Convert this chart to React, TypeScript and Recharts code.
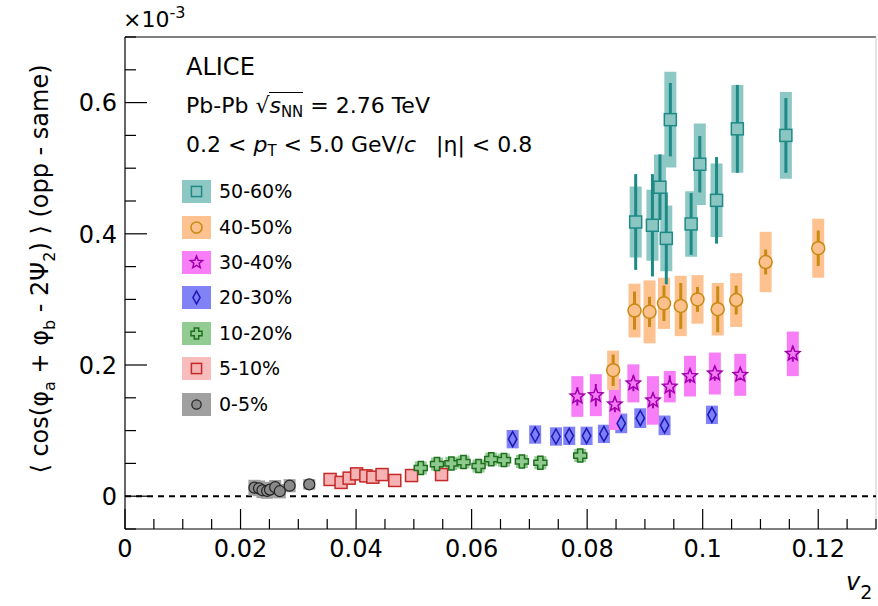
import React from "react";
import { ScatterChart, Scatter, XAxis, YAxis, ErrorBar, ReferenceLine, Legend } from "recharts";

const FONT = '"DejaVu Sans", "Liberation Sans", Arial, sans-serif';

// axis ticks (minor + major) and the majors that carry a label
const X_TICKS = [0, 0.005, 0.01, 0.015, 0.02, 0.025, 0.03, 0.035, 0.04, 0.045, 0.05, 0.055, 0.06, 0.065, 0.07, 0.075, 0.08, 0.085, 0.09, 0.095, 0.1, 0.105, 0.11, 0.115, 0.12, 0.125, 0.13];
const X_LABELS = [0, 0.02, 0.04, 0.06, 0.08, 0.1, 0.12];
const Y_TICKS = [-0.05, 0, 0.05, 0.1, 0.15, 0.2, 0.25, 0.3, 0.35, 0.4, 0.45, 0.5, 0.55, 0.6, 0.65, 0.7];
const Y_LABELS = [0, 0.2, 0.4, 0.6];

// legend order, top to bottom
const LEGEND_ORDER = ["50-60%", "40-50%", "30-40%", "20-30%", "10-20%", "5-10%", "0-5%"];

// 0-5%
const v2_0005 = [0.0224, 0.0232, 0.0238, 0.0246, 0.0251, 0.026, 0.0268, 0.0285, 0.0319];
const val_0005 = [0.013, 0.012, 0.009, 0.008, 0.01, 0.0137, 0.0076, 0.016, 0.018];
const stat_0005 = [0.002, 0.002, 0.002, 0.002, 0.002, 0.002, 0.002, 0.002, 0.002];
const syst_0005 = [0.012, 0.012, 0.012, 0.012, 0.012, 0.011, 0.011, 0.01, 0.008];

// 5-10%
const v2_0510 = [0.0355, 0.0374, 0.0388, 0.0401, 0.0417, 0.0429, 0.0445, 0.0467, 0.0496, 0.0548];
const val_0510 = [0.0255, 0.021, 0.0275, 0.034, 0.031, 0.029, 0.033, 0.024, 0.0315, 0.033];
const stat_0510 = [0.002, 0.002, 0.002, 0.002, 0.002, 0.002, 0.002, 0.002, 0.002, 0.002];
const syst_0510 = [0.01, 0.01, 0.01, 0.01, 0.01, 0.01, 0.01, 0.01, 0.01, 0.01];

// 10-20%
const v2_1020 = [0.0512, 0.054, 0.0565, 0.0586, 0.0612, 0.0634, 0.0656, 0.0687, 0.0719, 0.0788];
const val_1020 = [0.043, 0.049, 0.05, 0.052, 0.046, 0.0565, 0.055, 0.053, 0.051, 0.062];
const stat_1020 = [0.003, 0.003, 0.003, 0.003, 0.003, 0.003, 0.003, 0.003, 0.003, 0.003];
const syst_1020 = [0.01, 0.01, 0.01, 0.01, 0.01, 0.01, 0.01, 0.01, 0.01, 0.01];

// 20-30%
const v2_2030 = [0.0671, 0.071, 0.0746, 0.0769, 0.0799, 0.0829, 0.0859, 0.0892, 0.0934, 0.1016];
const val_2030 = [0.087, 0.094, 0.091, 0.092, 0.092, 0.095, 0.111, 0.119, 0.108, 0.124];
const stat_2030 = [0.005, 0.005, 0.005, 0.005, 0.005, 0.005, 0.006, 0.006, 0.006, 0.007];
const syst_2030 = [0.014, 0.014, 0.014, 0.014, 0.014, 0.014, 0.015, 0.015, 0.015, 0.014];

// 30-40%
const v2_3040 = [0.0783, 0.0815, 0.0848, 0.088, 0.0914, 0.0943, 0.0978, 0.1021, 0.1065, 0.1156];
const val_3040 = [0.152, 0.154, 0.14, 0.172, 0.146, 0.167, 0.183, 0.187, 0.185, 0.217];
const stat_3040 = [0.014, 0.017, 0.012, 0.012, 0.012, 0.017, 0.01, 0.011, 0.008, 0.012];
const syst_3040 = [0.031, 0.032, 0.039, 0.029, 0.037, 0.024, 0.031, 0.032, 0.032, 0.034];

// 40-50%
const v2_4050 = [0.0845, 0.0882, 0.0908, 0.0933, 0.0962, 0.0991, 0.1026, 0.1058, 0.1109, 0.12];
const val_4050 = [0.192, 0.283, 0.281, 0.294, 0.29, 0.3, 0.285, 0.299, 0.357, 0.378];
const stat_4050 = [0.024, 0.029, 0.023, 0.027, 0.035, 0.019, 0.035, 0.022, 0.019, 0.027];
const syst_4050 = [0.03, 0.041, 0.048, 0.039, 0.046, 0.037, 0.04, 0.041, 0.046, 0.045];

// 50-60%
const v2_5060 = [0.0884, 0.0913, 0.0926, 0.0937, 0.0944, 0.098, 0.0995, 0.1024, 0.106, 0.1144];
const val_5060 = [0.418, 0.413, 0.471, 0.393, 0.574, 0.415, 0.506, 0.451, 0.56, 0.55];
const stat_5060 = [0.073, 0.078, 0.05, 0.07, 0.056, 0.047, 0.043, 0.066, 0.067, 0.057];
const syst_5060 = [0.054, 0.054, 0.05, 0.05, 0.073, 0.05, 0.062, 0.056, 0.067, 0.066];

// drawing order: most central first, 50-60% on top
const SERIES = [
  { name: "0-5%", v2: v2_0005, val: val_0005, stat: stat_0005, syst: syst_0005, marker: "dot", box: "#a0a0a0", fill: "#8a8a8a", line: "#222222", statW: 1.5 },
  { name: "5-10%", v2: v2_0510, val: val_0510, stat: stat_0510, syst: syst_0510, marker: "square", box: "#f8bcbc", fill: "#f7b3b3", line: "#c42a2a", statW: 1.5 },
  { name: "10-20%", v2: v2_1020, val: val_1020, stat: stat_1020, syst: syst_1020, marker: "cross", box: "#92cc92", fill: "#8ec98e", line: "#1f6f1f", statW: 1.5 },
  { name: "20-30%", v2: v2_2030, val: val_2030, stat: stat_2030, syst: syst_2030, marker: "diamond", box: "#8282f7", fill: "#7e7ef6", line: "#1a1ab4", statW: 1.5 },
  { name: "30-40%", v2: v2_3040, val: val_3040, stat: stat_3040, syst: syst_3040, marker: "star", box: "#f77ef7", fill: "#f57af5", line: "#a000ac", statW: 2 },
  { name: "40-50%", v2: v2_4050, val: val_4050, stat: stat_4050, syst: syst_4050, marker: "circle", box: "#fdc290", fill: "#fcc08c", line: "#c88a12", statW: 3 },
  { name: "50-60%", v2: v2_5060, val: val_5060, stat: stat_5060, syst: syst_5060, marker: "square", box: "#8ec8c5", fill: "#8cc6c3", line: "#1d8a86", statW: 3 },
];

const starPoints = (cx: number, cy: number, R: number, r: number) => {
  const pts: string[] = [];
  for (let k = 0; k < 10; k++) {
    const rad = k % 2 === 0 ? R : r;
    const a = -Math.PI / 2 + (k * Math.PI) / 5;
    pts.push(`${(cx + rad * Math.cos(a)).toFixed(2)},${(cy + rad * Math.sin(a)).toFixed(2)}`);
  }
  return pts.join(" ");
};

const crossPoints = (cx: number, cy: number, L: number, w: number) =>
  [
    [-w, -L], [w, -L], [w, -w], [L, -w], [L, w], [w, w],
    [w, L], [-w, L], [-w, w], [-L, w], [-L, -w], [-w, -w],
  ].map(([dx, dy]) => `${cx + dx},${cy + dy}`).join(" ");

const Marker = ({ kind, cx, cy, fill, stroke, s = 1 }: any) => {
  const common = { fill, stroke, strokeWidth: 1.5 };
  switch (kind) {
    case "square":
      return <rect x={cx - 6 * s} y={cy - 6 * s} width={12 * s} height={12 * s} {...common} />;
    case "circle":
      return <circle cx={cx} cy={cy} r={6.5 * s} {...common} />;
    case "star":
      return <polygon points={starPoints(cx, cy, 7.5 * s, 3.3 * s)} {...common} />;
    case "diamond":
      return <polygon points={`${cx},${cy - 7.5 * s} ${cx + 4.2 * s},${cy} ${cx},${cy + 7.5 * s} ${cx - 4.2 * s},${cy}`} {...common} />;
    case "cross":
      return <polygon points={crossPoints(cx, cy, 6.5 * s, 2.6 * s)} {...common} />;
    default:
      return <circle cx={cx} cy={cy} r={5.5 * s} fill={fill} stroke={stroke} strokeWidth={1.2} />;
  }
};

const XTick = (props: any) => {
  const { x, y, payload } = props;
  const v = payload.value;
  const major = X_LABELS.includes(v);
  return (
    <g>
      <line x1={x} x2={x} y1={y} y2={y - (major ? 20 : 10)} stroke="#000" strokeWidth={1.2} />
      {major && (
        <text x={x} y={y + 28} textAnchor="middle" fontSize={24} fontFamily={FONT} fill="#000">
          {String(v)}
        </text>
      )}
    </g>
  );
};

const YTick = (props: any) => {
  const { x, y, payload } = props;
  const v = payload.value;
  const major = Y_LABELS.includes(v);
  return (
    <g>
      <line x1={x} x2={x + (major ? 22 : 11)} y1={y} y2={y} stroke="#000" strokeWidth={1.2} />
      {major && (
        <text x={x - 8} y={y + 8.7} textAnchor="end" fontSize={24} fontFamily={FONT} fill="#000">
          {String(v)}
        </text>
      )}
    </g>
  );
};

const YTitle = (props: any) => {
  const vb = props.viewBox || { x: 0, y: 37 };
  const cx = vb.x + 48;
  const cy = vb.y + 232;
  return (
    <text transform={`translate(${cx},${cy}) rotate(-90)`} textAnchor="middle" fontSize={24} fontFamily={FONT} fill="#000">
      <tspan>⟨ cos(φ</tspan>
      <tspan fontSize={16} dy={7}>a</tspan>
      <tspan dy={-7}> + φ</tspan>
      <tspan fontSize={16} dy={7}>b</tspan>
      <tspan dy={-7}> - 2Ψ</tspan>
      <tspan fontSize={16} dy={7}>2</tspan>
      <tspan dy={-7}>) ⟩ (opp - same)</tspan>
    </text>
  );
};

const LegendBox = () => {
  const rows = LEGEND_ORDER.map((n) => SERIES.find((s) => s.name === n)!).filter(Boolean);
  return (
    <div style={{ fontFamily: FONT }}>
      {rows.map((s) => (
        <div key={s.name} style={{ display: "flex", alignItems: "center", height: 35.4 }}>
          <svg width={29} height={23} style={{ display: "block" }}>
            <rect x={0} y={0} width={29} height={23} fill={s.box} />
            <Marker kind={s.marker} cx={14.5} cy={11.5} fill={s.fill} stroke={s.line} s={0.85} />
          </svg>
          <span style={{ marginLeft: 8, fontSize: 19, lineHeight: "23px", color: "#000" }}>{s.name}</span>
        </div>
      ))}
    </div>
  );
};

const sub: React.CSSProperties = { fontSize: "0.68em", verticalAlign: "-0.3em", lineHeight: 0 };

export default function App() {
  return (
    <div style={{ position: "absolute", left: 0, top: 0, width: 878, height: 606, background: "#fff", fontFamily: FONT, overflow: "hidden" }}>
      <ScatterChart width={878} height={606} margin={{ top: 37, right: 2, bottom: 0, left: 0 }}>
        <XAxis
          type="number"
          dataKey="x"
          domain={[0, 0.13]}
          ticks={X_TICKS}
          interval={0}
          tickSize={0}
          tickMargin={0}
          tickLine={false}
          axisLine={{ stroke: "#000", strokeWidth: 1.2 }}
          tick={<XTick />}
          height={77}
          allowDataOverflow
        />
        <YAxis
          type="number"
          dataKey="y"
          domain={[-0.05, 0.7]}
          ticks={Y_TICKS}
          interval={0}
          tickSize={0}
          tickMargin={0}
          tickLine={false}
          axisLine={{ stroke: "#000", strokeWidth: 1.2 }}
          tick={<YTick />}
          width={125}
          allowDataOverflow
          label={<YTitle />}
        />
        <ReferenceLine y={0.7} stroke="#000" strokeWidth={1.2} />
        <ReferenceLine x={0.13} stroke="#c8c8c8" strokeWidth={1} />
        <ReferenceLine y={0} stroke="#000" strokeWidth={2} strokeDasharray="6 5" />
        {SERIES.map((s) => (
          <Scatter
            key={s.name}
            name={s.name}
            data={s.v2.map((x, i) => ({ x, y: s.val[i], stat: s.stat[i], syst: s.syst[i] }))}
            isAnimationActive={false}
            shape={(p: any) => <Marker kind={s.marker} cx={p.cx} cy={p.cy} fill={s.fill} stroke={s.line} />}
          >
            <ErrorBar dataKey="syst" direction="y" width={0} stroke={s.box} strokeWidth={12} isAnimationActive={false} />
            <ErrorBar dataKey="stat" direction="y" width={0} stroke={s.line} strokeWidth={s.statW} isAnimationActive={false} />
          </Scatter>
        ))}
        <Legend
          layout="vertical"
          align="center"
          verticalAlign="middle"
          wrapperStyle={{ left: 182, top: 174, width: 160, height: 250 }}
          content={() => <LegendBox />}
        />
      </ScatterChart>

      {/* exponent of the y axis */}
      <div style={{ position: "absolute", left: 123, top: 9, fontSize: 22, lineHeight: "22px" }}>
        ×10<span style={{ fontSize: 16, verticalAlign: "0.55em", lineHeight: 0 }}>-3</span>
      </div>

      {/* x axis title */}
      <div style={{ position: "absolute", left: 846, top: 570, fontSize: 24, lineHeight: "24px", fontStyle: "italic" }}>
        v<span style={{ fontSize: 19, fontStyle: "normal", verticalAlign: "-0.45em", lineHeight: 0 }}>2</span>
      </div>

      {/* annotations */}
      <div style={{ position: "absolute", left: 186, top: 55, fontSize: 24, lineHeight: "24px" }}>ALICE</div>
      <div style={{ position: "absolute", left: 186, top: 95, fontSize: 22, lineHeight: "22px", whiteSpace: "nowrap" }}>
        Pb-Pb √<span style={{ borderTop: "1.5px solid #000", fontStyle: "italic" }}>s<span style={{ ...sub, fontStyle: "normal" }}>NN</span></span> = 2.76 TeV
      </div>
      <div style={{ position: "absolute", left: 186, top: 134, fontSize: 22, lineHeight: "22px", whiteSpace: "nowrap" }}>
        0.2 &lt; <i>p</i><span style={sub}>T</span> &lt; 5.0 GeV/<i>c</i>
        <span style={{ marginLeft: 20 }}>|η| &lt; 0.8</span>
      </div>
    </div>
  );
}
